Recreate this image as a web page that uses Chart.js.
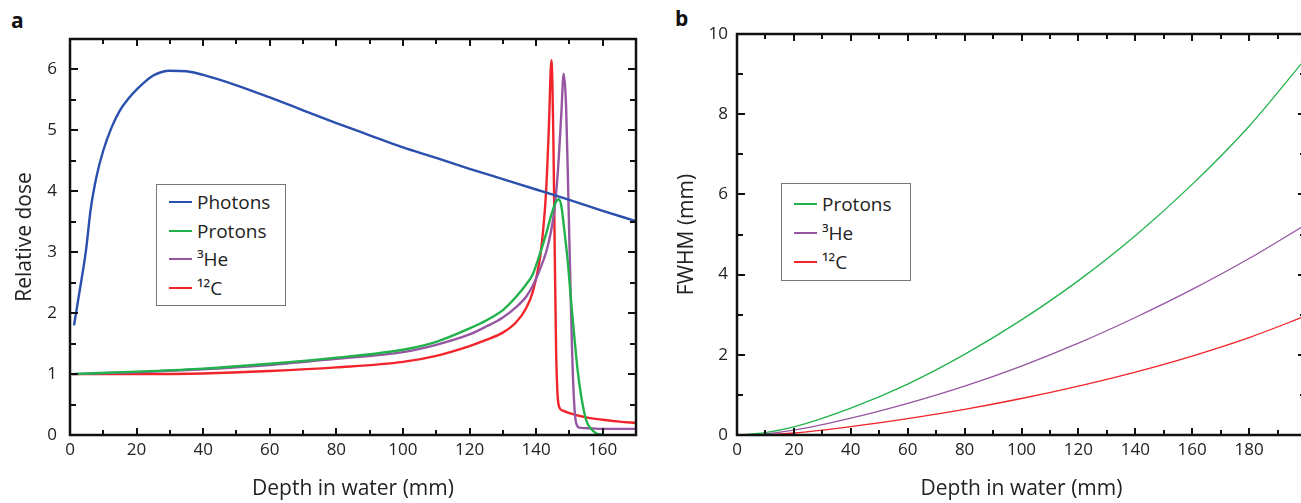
<!DOCTYPE html>
<html>
<head>
<meta charset="utf-8">
<script src="https://cdn.jsdelivr.net/npm/chart.js@4.4.0/dist/chart.umd.min.js"></script>
<style>
  html, body { margin: 0; padding: 0; background: #fff; overflow: hidden; }
  body { width: 1301px; height: 503px; position: relative; font-family: 'Open Sans', sans-serif; }
  canvas { position: absolute; top: 0; }
  #chartA { left: 0; }
  #chartB { left: 650px; }
  .panel { position: absolute; font-weight: bold; font-size: 21px; color: #111; }
  .legend { position: absolute; border: 1.5px solid #777; background: #fff; box-sizing: border-box; }
  .legend .row { position: absolute; left: 12px; height: 28px; display: flex; align-items: center; font-size: 19px; color: #222; }
  .legend .swatch { width: 23px; height: 2px; margin-right: 5px; }
</style>
</head>
<body>
<div class="panel" style="left:11px; top:6px;">a</div>
<div class="panel" style="left:675px; top:4px;">b</div>
<canvas id="chartA" width="650" height="503"></canvas>
<canvas id="chartB" width="670" height="503"></canvas>
<div class="legend" id="legendA" style="left:156px; top:184px; width:130px; height:122px;"></div>
<div class="legend" id="legendB" style="left:781px; top:183px; width:130px; height:98px;"></div>
<script>
// panel a: depth-dose curves
const photonDepth = [1.2, 3, 4.8, 6.2, 8, 10, 12.5, 15, 17.5, 20, 25, 30, 35, 40, 50, 60, 70, 80, 90, 100, 110, 120, 130, 140, 150, 160, 170];
const photonDose = [1.8, 2.4, 3.03, 3.7, 4.25, 4.67, 5.05, 5.33, 5.52, 5.67, 5.9, 5.98, 5.97, 5.91, 5.74, 5.54, 5.33, 5.12, 4.92, 4.72, 4.55, 4.37, 4.2, 4.03, 3.86, 3.68, 3.51];

const protonDepth = [0.5, 20, 40, 60, 80, 100, 110, 120, 125, 130, 134, 137, 139, 141, 143, 144.5, 146, 146.8, 147.6, 148.5, 149.5, 150.5, 151.5, 152.5, 153.5, 155, 156.5, 158, 160];
const protonDose = [1.0, 1.04, 1.09, 1.17, 1.27, 1.4, 1.53, 1.75, 1.88, 2.05, 2.27, 2.47, 2.64, 2.95, 3.3, 3.6, 3.83, 3.87, 3.75, 3.35, 2.85, 2.2, 1.6, 1.05, 0.65, 0.25, 0.1, 0.03, 0.0];

const heliumDepth = [0.5, 20, 40, 60, 80, 100, 110, 120, 125, 130, 134, 137, 139, 141, 143, 144.5, 145.5, 146.5, 147.5, 148.3, 149, 149.6, 150.2, 150.8, 151.4, 152, 153, 156, 160, 170];
const heliumDose = [1.0, 1.03, 1.08, 1.15, 1.25, 1.36, 1.48, 1.65, 1.78, 1.93, 2.1, 2.27, 2.45, 2.7, 3.0, 3.35, 3.7, 4.3, 5.2, 5.93, 5.4, 4.1, 2.7, 1.4, 0.55, 0.2, 0.12, 0.11, 0.1, 0.1];

const carbonDepth = [0.5, 20, 40, 60, 80, 100, 110, 120, 125, 130, 134, 137, 139, 141, 142, 143, 143.8, 144.6, 145.2, 145.6, 146, 146.4, 147, 148, 150, 155, 160, 165, 170];
const carbonDose = [1.0, 1.0, 1.01, 1.05, 1.11, 1.2, 1.3, 1.46, 1.56, 1.68, 1.85, 2.08, 2.35, 2.85, 3.3, 4.0, 5.0, 6.15, 4.8, 3.0, 1.4, 0.7, 0.45, 0.4, 0.36, 0.29, 0.25, 0.22, 0.2];

// panel b: lateral spread
const fwhmDepth = [0, 10, 20, 40, 60, 80, 100, 120, 140, 160, 180, 200];
const protonFwhm = [0, 0.06, 0.2, 0.67, 1.27, 2.01, 2.87, 3.85, 4.97, 6.25, 7.7, 9.4];
const heliumFwhm = [0, 0.03, 0.12, 0.42, 0.79, 1.22, 1.72, 2.29, 2.93, 3.63, 4.4, 5.25];
const carbonFwhm = [0, 0.01, 0.05, 0.21, 0.41, 0.64, 0.91, 1.22, 1.57, 1.97, 2.43, 2.97];

const colors = {
    photons: '#2a4fae',
    protons: '#22b24c',
    helium: '#9656a2',
    carbon: '#f0242a'
};

const pairs = (xs, ys) => xs.map((x, i) => ({ x, y: ys[i] }));

const font = 'Open Sans';

// box around the plot and inward ticks on all four sides
const frameTicks = {
    id: 'frameTicks',
    afterDatasetsDraw(chart, args, opts) {
        const { ctx, chartArea: a, scales: { x, y } } = chart;
        ctx.save();
        ctx.strokeStyle = '#111';
        ctx.lineWidth = 2;
        ctx.beginPath();
        const nx = Math.round((x.max - x.min) / opts.xMinor);
        for (let i = 0; i <= nx; i++) {
            const v = x.min + i * opts.xMinor;
            const px = Math.round(x.getPixelForValue(v));
            const len = v % opts.xMajor === 0 ? 7 : 5;
            ctx.moveTo(px, a.bottom); ctx.lineTo(px, a.bottom - len);
            ctx.moveTo(px, a.top); ctx.lineTo(px, a.top + len);
        }
        const ny = Math.round((y.max - y.min) / opts.yMinor);
        for (let i = 0; i <= ny; i++) {
            const v = y.min + i * opts.yMinor;
            const py = Math.round(y.getPixelForValue(v));
            const len = v % opts.yMajor === 0 ? 8 : 6;
            ctx.moveTo(a.left, py); ctx.lineTo(a.left + len, py);
            ctx.moveTo(a.right, py); ctx.lineTo(a.right - len, py);
        }
        ctx.stroke();
        ctx.lineWidth = 2.5;
        ctx.strokeRect(a.left, a.top, a.right - a.left, a.bottom - a.top);
        ctx.restore();
    }
};

const makeChart = (id, datasets, cfg) => new Chart(document.getElementById(id), {
    type: 'line',
    data: { datasets },
    plugins: [frameTicks],
    options: {
        responsive: false,
        devicePixelRatio: 1,
        animation: false,
        layout: { padding: { left: 0, right: 14, top: cfg.top, bottom: 0 } },
        elements: { point: { radius: 0 }, line: { cubicInterpolationMode: 'monotone' } },
        plugins: {
            legend: { display: false },
            tooltip: { enabled: false },
            frameTicks: cfg.ticks
        },
        scales: {
            x: {
                type: 'linear',
                min: 0,
                max: cfg.xMax,
                grid: { display: false, drawTicks: false },
                border: { display: false },
                afterBuildTicks: s => { s.ticks = s.ticks.filter(t => t.value % 20 === 0 && t.value < 200); },
                afterFit: s => { s.height = 68; },
                ticks: { stepSize: 10, autoSkip: false, maxRotation: 0, padding: 5, color: '#222', font: { family: font, size: 17 } },
                title: {
                    display: true,
                    text: 'Depth in water (mm)',
                    color: '#222',
                    font: { family: font, size: 21 },
                    padding: { top: 0, bottom: 1 }
                }
            },
            y: {
                min: 0,
                max: cfg.yMax,
                grid: { display: false, drawTicks: false },
                border: { display: false },
                afterBuildTicks: s => { s.ticks = s.ticks.filter(t => Math.abs(t.value % cfg.yStep) < 1e-9); },
                afterFit: s => { s.width = cfg.yWidth; },
                ticks: { stepSize: cfg.yMinorStep, autoSkip: false, padding: cfg.yPad, color: '#222', font: { family: font, size: 17 } },
                title: {
                    display: true,
                    text: cfg.yTitle,
                    color: '#222',
                    font: { family: font, size: 21 },
                    padding: { top: cfg.yTitlePad, bottom: 0 }
                }
            }
        }
    }
});

const line = (label, color, data, width) => ({
    label, data, borderColor: color, backgroundColor: color,
    borderWidth: width, fill: false
});

const chartA = makeChart('chartA', [
    line('Photons', colors.photons, pairs(photonDepth, photonDose), 2.4),
    line('Protons', colors.protons, pairs(protonDepth, protonDose), 2.4),
    line('³He', colors.helium, pairs(heliumDepth, heliumDose), 2.4),
    line('¹²C', colors.carbon, pairs(carbonDepth, carbonDose), 2.4)
], {
    top: 39, xMax: 170, yMax: 6.5, yStep: 1, yMinorStep: 0.5, yWidth: 70, yPad: 13, yTitle: 'Relative dose', yTitlePad: 12.4,
    ticks: { xMinor: 10, xMajor: 20, yMinor: 0.5, yMajor: 1 }
});

const chartB = makeChart('chartB', [
    line('Protons', colors.protons, pairs(fwhmDepth, protonFwhm), 1.3),
    line('³He', colors.helium, pairs(fwhmDepth, heliumFwhm), 1.3),
    line('¹²C', colors.carbon, pairs(fwhmDepth, carbonFwhm), 1.3)
], {
    top: 34, xMax: 200, yMax: 10, yStep: 2, yMinorStep: 1, yWidth: 87, yPad: 9, yTitle: 'FWHM (mm)', yTitlePad: 24.4,
    ticks: { xMinor: 10, xMajor: 20, yMinor: 1, yMajor: 2 }
});

// legends built from the chart datasets
const buildLegend = (chart, id, firstRow, pitch) => {
    const box = document.getElementById(id);
    chart.data.datasets.forEach((ds, i) => {
        const row = document.createElement('div');
        row.className = 'row';
        row.style.top = (firstRow + i * pitch) + 'px';
        const sw = document.createElement('span');
        sw.className = 'swatch';
        sw.style.background = ds.borderColor;
        const txt = document.createElement('span');
        txt.textContent = ds.label;
        row.append(sw, txt);
        box.append(row);
    });
};
buildLegend(chartA, 'legendA', 3, 28.5);
buildLegend(chartB, 'legendB', 6, 29);
</script>
</body>
</html>
